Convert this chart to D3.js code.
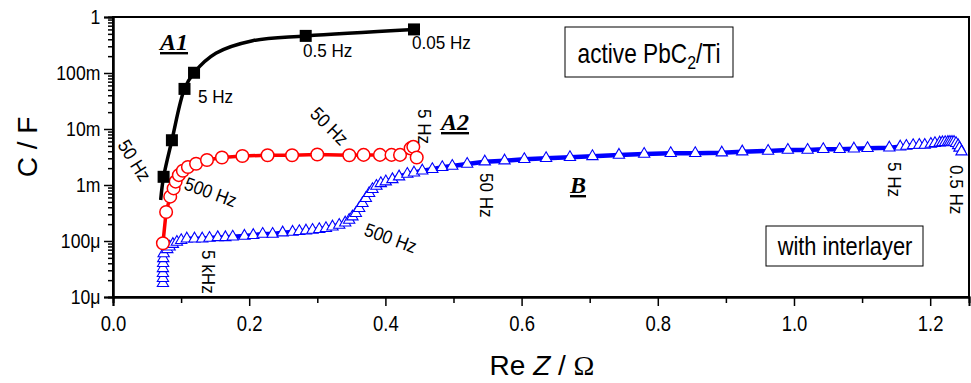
<!DOCTYPE html>
<html>
<head>
<meta charset="utf-8">
<script src="https://cdn.jsdelivr.net/npm/d3@7"></script>
<style>
  body { margin: 0; background: #fff; }
  svg { display: block; }
</style>
</head>
<body>
<script>
// A1: active PbO2/Ti, markers and the fitted line through them
var a1Markers = [
  [0.0743, 1.4e-3], [0.0865, 6.3e-3], [0.105, 0.052], [0.119, 0.101], [0.283, 0.46], [0.442, 0.60]
];
var a1Line = [
  [0.070, 5.4e-4], [0.0743, 1.4e-3], [0.0865, 6.3e-3], [0.105, 0.052], [0.119, 0.101],
  [0.151, 0.225], [0.205, 0.377], [0.283, 0.46], [0.442, 0.60]
];

// A2
var a2Data = [
  [0.0733, 9.1e-5], [0.078, 3.3e-4], [0.084, 6.2e-4], [0.089, 8.7e-4], [0.092, 1.15e-3],
  [0.0967, 1.5e-3], [0.1026, 1.8e-3], [0.110, 2.1e-3], [0.122, 2.4e-3], [0.138, 2.8e-3],
  [0.160, 3.1e-3], [0.190, 3.3e-3], [0.227, 3.4e-3], [0.263, 3.4e-3], [0.300, 3.5e-3],
  [0.347, 3.4e-3], [0.368, 3.45e-3], [0.392, 3.45e-3], [0.409, 3.45e-3], [0.4215, 3.45e-3],
  [0.437, 4.5e-3], [0.441, 4.8e-3], [0.446, 3.1e-3]
];

// B: with interlayer
var bData = [
  [0.0733, 1.76e-5], [0.0733, 2.16e-5], [0.0733, 2.65e-5], [0.0733, 3.25e-5], [0.0736, 4.0e-5],
  [0.0738, 4.9e-5], [0.0744, 6.0e-5], [0.0797, 7.1e-5], [0.0831, 7.9e-5], [0.0879, 8.8e-5],
  [0.0938, 9.6e-5], [0.1002, 1.03e-4], [0.1084, 1.10e-4], [0.1197, 1.10e-4], [0.131, 1.10e-4],
  [0.1417, 1.13e-4], [0.1538, 1.16e-4], [0.165, 1.16e-4], [0.1758, 1.19e-4], [0.193, 1.23e-4],
  [0.206, 1.27e-4], [0.2198, 1.33e-4], [0.2344, 1.33e-4], [0.2491, 1.41e-4], [0.2637, 1.45e-4],
  [0.2736, 1.49e-4], [0.2834, 1.53e-4], [0.293, 1.57e-4], [0.3029, 1.62e-4], [0.3127, 1.69e-4],
  [0.3223, 1.80e-4], [0.3322, 1.93e-4], [0.341, 2.12e-4], [0.3468, 2.37e-4], [0.3516, 2.72e-4],
  [0.3566, 3.13e-4], [0.3615, 3.84e-4], [0.3663, 4.71e-4], [0.3713, 5.79e-4], [0.3761, 7.11e-4],
  [0.381, 8.38e-4], [0.3868, 9.6e-4], [0.3933, 1.07e-3], [0.4006, 1.15e-3], [0.4103, 1.26e-3],
  [0.4201, 1.41e-3], [0.4322, 1.57e-3], [0.442, 1.66e-3], [0.4542, 1.80e-3], [0.4689, 1.91e-3],
  [0.4835, 2.07e-3], [0.4982, 2.18e-3], [0.5201, 2.37e-3], [0.546, 2.61e-3], [0.575, 2.72e-3],
  [0.604, 2.88e-3], [0.636, 3.00e-3], [0.671, 3.13e-3], [0.704, 3.25e-3], [0.743, 3.44e-3],
  [0.780, 3.58e-3], [0.819, 3.68e-3], [0.855, 3.68e-3], [0.894, 3.78e-3], [0.924, 3.94e-3],
  [0.962, 4.05e-3], [0.991, 4.22e-3], [1.020, 4.22e-3], [1.043, 4.34e-3], [1.067, 4.34e-3],
  [1.088, 4.45e-3], [1.108, 4.52e-3], [1.140, 4.63e-3], [1.156, 4.83e-3], [1.165, 4.97e-3],
  [1.175, 5.12e-3], [1.184, 5.18e-3], [1.192, 5.18e-3], [1.201, 5.40e-3], [1.207, 5.56e-3],
  [1.214, 5.69e-3], [1.218, 5.75e-3], [1.222, 5.79e-3], [1.226, 5.83e-3], [1.229, 5.86e-3],
  [1.232, 5.86e-3], [1.235, 5.86e-3], [1.238, 5.56e-3], [1.241, 5.1e-3], [1.243, 4.6e-3],
  [1.246, 3.94e-3]
];

var xTicks = [0, 0.2, 0.4, 0.6, 0.8, 1.0, 1.2];
var xTickLabels = ["0.0", "0.2", "0.4", "0.6", "0.8", "1.0", "1.2"];
var xMinorTicks = [0.1, 0.3, 0.5, 0.7, 0.9, 1.1];
var yTicks = [1e-5, 1e-4, 1e-3, 1e-2, 1e-1, 1];
var yTickLabels = ["10\u03bc", "100\u03bc", "1m", "10m", "100m", "1"];

var W = 971, H = 383;
var mLeft = 113, mRight = 969, mTop = 17, mBottom = 297;
var sans = "'Liberation Sans', Arial, sans-serif";
var squeeze = "scale(0.84,1)";

var svg = d3.select("body").append("svg")
    .attr("width", W)
    .attr("height", H);

var x = d3.scaleLinear().domain([0, 1.257]).range([mLeft, mRight]);
var y = d3.scaleLog().domain([1e-5, 1]).range([mBottom, mTop]);

// y minor ticks 2..9 per decade
var yMinorTicks = [];
yTicks.slice(0, -1).forEach(function(t) {
  for (var k = 2; k <= 9; k++) yMinorTicks.push(t * k);
});

// frame
svg.append("rect")
    .attr("x", mLeft).attr("y", mTop)
    .attr("width", mRight - mLeft).attr("height", mBottom - mTop)
    .attr("fill", "none").attr("stroke", "#000").attr("stroke-width", 2);

// axes
var xAxis = svg.append("g")
    .attr("transform", "translate(0," + mBottom + ")")
    .call(d3.axisBottom(x).tickValues(xTicks)
      .tickFormat(function(d, i) { return xTickLabels[i]; })
      .tickSize(9).tickPadding(9));
svg.append("g")
    .attr("transform", "translate(0," + mBottom + ")")
    .call(d3.axisBottom(x).tickValues(xMinorTicks).tickFormat("").tickSize(6));

var yAxis = svg.append("g")
    .attr("transform", "translate(" + mLeft + ",0)")
    .call(d3.axisLeft(y).tickValues(yTicks)
      .tickFormat(function(d, i) { return yTickLabels[i]; })
      .tickSize(9).tickPadding(6));
svg.append("g")
    .attr("transform", "translate(" + mLeft + ",0)")
    .call(d3.axisLeft(y).tickValues(yMinorTicks).tickFormat("").tickSize(5));

svg.selectAll(".domain").attr("stroke-width", 2);
svg.selectAll(".tick line").attr("stroke-width", 1.5);
xAxis.selectAll("text").style("font-family", sans).style("font-size", "22px").attr("transform", squeeze);
yAxis.selectAll("text").style("font-family", sans).style("font-size", "21px").attr("transform", squeeze);

// axis titles
var xt = svg.append("text")
    .attr("x", 542).attr("y", 375)
    .attr("text-anchor", "middle")
    .style("font-family", sans).style("font-size", "28px");
xt.append("tspan").text("Re ");
xt.append("tspan").style("font-style", "italic").text("Z");
xt.append("tspan").text(" / ");
xt.append("tspan").style("font-family", "'Liberation Serif', serif").text("\u03a9");

svg.append("text")
    .attr("transform", "translate(37,147) rotate(-90)")
    .attr("text-anchor", "middle")
    .style("font-family", sans).style("font-size", "28px")
    .text("C / F");

// B curve
var line = d3.line().x(function(d) { return x(d[0]); }).y(function(d) { return y(d[1]); });
svg.append("path").datum(bData)
    .attr("d", line).attr("fill", "none").attr("stroke", "#0000ff").attr("stroke-width", 4.5);
svg.append("g").selectAll("path").data(bData).enter().append("path")
    .attr("d", d3.symbol(d3.symbolTriangle).size(55))
    .attr("transform", function(d) { return "translate(" + x(d[0]) + "," + y(d[1]) + ")"; })
    .attr("fill", "#fff").attr("stroke", "#0000ff").attr("stroke-width", 1.1);

// A2 curve
svg.append("path").datum(a2Data)
    .attr("d", line).attr("fill", "none").attr("stroke", "#ff0000").attr("stroke-width", 3.5);
svg.append("g").selectAll("circle").data(a2Data).enter().append("circle")
    .attr("cx", function(d) { return x(d[0]); })
    .attr("cy", function(d) { return y(d[1]); })
    .attr("r", 6.3)
    .attr("fill", "#fff").attr("stroke", "#ff0000").attr("stroke-width", 1.5);

// A1 curve
var smooth = d3.line().curve(d3.curveCatmullRom)
    .x(function(d) { return x(d[0]); }).y(function(d) { return y(d[1]); });
svg.append("path").datum(a1Line)
    .attr("d", smooth).attr("fill", "none")
    .attr("stroke", "#000").attr("stroke-width", 3.5);
svg.append("g").selectAll("rect").data(a1Markers).enter().append("rect")
    .attr("x", function(d) { return x(d[0]) - 6; })
    .attr("y", function(d) { return y(d[1]) - 6; })
    .attr("width", 12).attr("height", 12)
    .attr("fill", "#000");

// frequency labels
var freqLabels = [
  { t: "0.05 Hz", px: 412, py: 49, r: 0 },
  { t: "0.5 Hz", px: 303, py: 57, r: 0 },
  { t: "5 Hz", px: 198, py: 103, r: 0 },
  { t: "50 Hz", px: 117, py: 145, r: 58 },
  { t: "50 Hz", px: 309, py: 115, r: 45 },
  { t: "500 Hz", px: 183, py: 189, r: 20 },
  { t: "500 Hz", px: 363, py: 235, r: 20 },
  { t: "5 Hz", px: 418, py: 109, r: 90 },
  { t: "5 kHz", px: 202, py: 250, r: 90 },
  { t: "50 Hz", px: 480, py: 173, r: 90 },
  { t: "5 Hz", px: 888, py: 162, r: 90 },
  { t: "0.5 Hz", px: 950, py: 165, r: 90 }
];
svg.append("g").selectAll("text").data(freqLabels).enter().append("text")
    .attr("transform", function(d) { return "translate(" + d.px + "," + d.py + ") rotate(" + d.r + ") scale(0.9,1)"; })
    .style("font-family", sans).style("font-size", "19px")
    .text(function(d) { return d.t; });

// curve names
var names = [
  { t: "A1", px: 160, py: 50 },
  { t: "A2", px: 441, py: 130 },
  { t: "B", px: 570, py: 193 }
];
svg.append("g").selectAll("text").data(names).enter().append("text")
    .attr("x", function(d) { return d.px; }).attr("y", function(d) { return d.py; })
    .style("font-family", "'Liberation Serif', 'Times New Roman', serif")
    .style("font-size", "24px").style("font-weight", "bold").style("font-style", "italic")
    .style("text-decoration", "underline")
    .text(function(d) { return d.t; });

// boxes
svg.append("rect").attr("x", 565).attr("y", 27).attr("width", 168).attr("height", 50)
    .attr("fill", "#fff").attr("stroke", "#000").attr("stroke-width", 1);
var bt = svg.append("text")
    .attr("transform", "translate(649,63) " + squeeze)
    .attr("text-anchor", "middle")
    .style("font-family", sans).style("font-size", "27px");
bt.append("tspan").text("active PbC");
bt.append("tspan").attr("dy", 6).style("font-size", "19px").text("2");
bt.append("tspan").attr("dy", -6).text("/Ti");

svg.append("rect").attr("x", 766).attr("y", 226).attr("width", 157).attr("height", 40)
    .attr("fill", "#fff").attr("stroke", "#000").attr("stroke-width", 1);
svg.append("text")
    .attr("transform", "translate(845,255) " + squeeze)
    .attr("text-anchor", "middle")
    .style("font-family", sans).style("font-size", "26px")
    .text("with interlayer");
</script>
</body>
</html>
